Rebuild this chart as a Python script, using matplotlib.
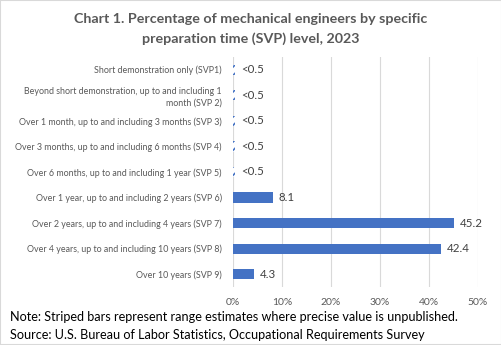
import matplotlib.pyplot as plt
import numpy as np

categories = [
    "Short demonstration only (SVP1)",
    "Beyond short demonstration, up to and including 1\nmonth (SVP 2)",
    "Over 1 month, up to and including 3 months (SVP 3)",
    "Over 3 months, up to and including 6 months (SVP 4)",
    "Over 6 months, up to and including 1 year (SVP 5)",
    "Over 1 year, up to and including 2 years (SVP 6)",
    "Over 2 years, up to and including 4 years (SVP 7)",
    "Over 4 years, up to and including 10 years (SVP 8)",
    "Over 10 years (SVP 9)",
]
values = [0.5, 0.5, 0.5, 0.5, 0.5, 8.1, 45.2, 42.4, 4.3]
estimated = [True, True, True, True, True, False, False, False, False]
value_labels = ["<0.5", "<0.5", "<0.5", "<0.5", "<0.5", "8.1", "45.2", "42.4", "4.3"]

BLUE = "#4472C4"
GRAY = "#595959"
FONT = "Lato"
plt.rcParams["hatch.linewidth"] = 1.2

fig = plt.figure(figsize=(5.02, 3.45), dpi=100)
fig.patches.append(plt.Rectangle((0, 0), 1, 1, transform=fig.transFigure,
                                 fill=False, edgecolor="#d9d9d9", lw=1.5))
ax = fig.add_axes([0.464, 0.168, 0.488, 0.667])

y = np.arange(len(categories))
for yi, v, est in zip(y, values, estimated):
    if est:
        # range estimates drawn as striped bars
        ax.barh(yi, v, height=0.4, color="white", edgecolor=BLUE,
                hatch="////", lw=0, zorder=3)
    else:
        ax.barh(yi, v, height=0.4, color=BLUE, zorder=3)

for yi, v, lab in zip(y, values, value_labels):
    ax.text(v + 1.2, yi, lab, va="center", ha="left", fontsize=8.3,
            color="#404040", family=FONT)

ax.set_xlim(0, 50)
ax.set_ylim(len(categories) - 0.5, -0.5)
ax.set_xticks(np.arange(0, 51, 10))
ax.set_xticklabels([f"{t}%" for t in range(0, 51, 10)], fontsize=7.5,
                   color=GRAY, family=FONT)
ax.set_yticks(y)
ax.set_yticklabels(categories, fontsize=6.4, color=GRAY, family=FONT,
                   linespacing=1.35)
ax.tick_params(length=0, pad=8)
ax.xaxis.grid(True, color="#d9d9d9", lw=0.8)
ax.set_axisbelow(True)
for s in ax.spines.values():
    s.set_visible(False)

fig.text(0.5, 0.915, "Chart 1. Percentage of mechanical engineers by specific\n"
         "preparation time (SVP) level, 2023", ha="center", va="center",
         fontsize=10.3, fontweight="bold", color=GRAY, family=FONT,
         linespacing=1.7)
fig.text(0.02, 0.08, "Note: Striped bars represent range estimates where precise value is unpublished.",
         fontsize=9.1, color="black", family=FONT, va="center")
fig.text(0.02, 0.028, "Source: U.S. Bureau of Labor Statistics, Occupational Requirements Survey",
         fontsize=9.1, color="black", family=FONT, va="center")

fig.savefig("out.png", dpi=100)
